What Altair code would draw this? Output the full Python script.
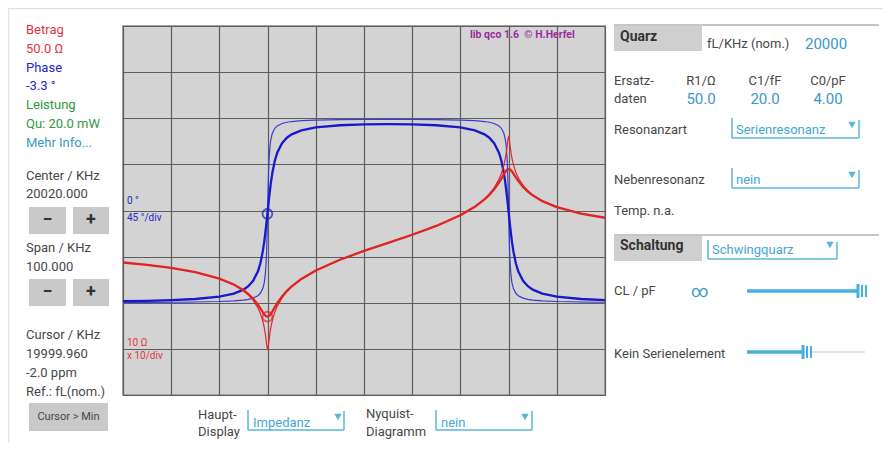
import altair as alt
import pandas as pd

# ---------------- data ----------------
FREQ_KHZ = [19970, 19975, 19980, 19985, 19990, 19993, 19995, 19996, 19997, 19998,
            19998.5, 19999, 19999.3, 19999.5, 19999.7, 19999.8, 19999.9, 20000,
            20000.1, 20000.2, 20000.3, 20000.5, 20000.7, 20001, 20001.5, 20002,
            20003, 20004, 20005, 20007, 20010, 20015, 20020, 20025, 20030, 20035,
            20040, 20043, 20045, 20046, 20047, 20048, 20048.5, 20049, 20049.3,
            20049.5, 20049.7, 20049.8, 20049.9, 20050, 20050.1, 20050.2, 20050.3,
            20050.5, 20050.7, 20051, 20051.5, 20052, 20053, 20054, 20055, 20057,
            20060, 20065, 20070]

# |Z| in Ohm, thick curve (R1 = 50 Ohm)
MAG_THICK = [746.6, 663.9, 569.5, 460.6, 334.1, 248.2, 186.4, 154.4, 122.1, 90.3,
             75.6, 62.6, 56.5, 53.3, 51.1, 50.4, 50.1, 50.0,
             50.2, 50.8, 51.7, 54.3, 58.0, 65.2, 80.2, 97.9,
             137.6, 181.3, 227.8, 328.9, 501.0, 855.1, 1327.8, 1989.5, 2981, 4629,
             7900, 12034, 17372, 21836, 28759, 40444, 49328, 60723, 68208,
             72840, 76558, 77888, 78778, 79186, 79094, 78513, 77483,
             74310, 70146, 63199, 52376, 43812, 32429, 25631, 21230, 15949,
             11847, 8593, 6951]

# |Z| in Ohm, thin curve (R1 = 10 Ohm)
MAG_THIN = [746.1, 663.2, 568.5, 459.2, 331.7, 244.5, 181.1, 147.7, 113.0, 77.1,
            58.8, 40.2, 29.2, 22.1, 15.5, 12.7, 10.7, 10.0,
            10.8, 12.8, 15.7, 22.5, 30.0, 41.9, 62.4, 83.5,
            127.4, 173.3, 221.3, 324.1, 497.5, 852.7, 1326.4, 1989.5, 2984, 4642,
            7956, 12214, 17883, 22835, 31061, 47377, 63445, 94553, 131878,
            175984, 252660, 308478, 367040, 395826, 368539, 310928, 255692,
            179506, 135598, 98412, 67372, 51324, 35028, 26798, 21856, 16189,
            11933, 8620, 6962]

# phase in degrees, thick curve
PHASE_THICK = [-88.50, -88.08, -87.43, -86.32, -84.04, -81.09, -77.20, -73.89, -68.63, -59.24,
               -51.45, -39.92, -30.54, -23.12, -14.86, -10.48, -5.99, -1.44,
               3.11, 7.60, 11.98, 20.24, 27.66, 37.04, 48.56, 56.36,
               65.74, 70.99, 74.29, 78.15, 81.04, 83.16, 84.01, 84.25, 84.01, 83.16,
               81.04, 78.15, 74.29, 70.99, 65.74, 56.36, 48.56, 37.04, 27.66,
               20.24, 11.98, 7.60, 3.11, -1.44, -5.99, -10.48, -14.86,
               -23.12, -30.54, -39.92, -51.45, -59.24, -68.63, -73.89, -77.20, -81.09,
               -84.04, -86.32, -87.43]

# phase in degrees, thin curve
PHASE_THIN = [-89.70, -89.62, -89.49, -89.26, -88.80, -88.20, -87.39, -86.67, -85.48, -83.12,
              -80.77, -76.18, -70.54, -63.60, -50.34, -38.80, -21.99, -0.29,
              21.41, 38.22, 49.76, 63.02, 69.96, 75.60, 80.19, 82.54,
              84.91, 86.09, 86.80, 87.61, 88.20, 88.63, 88.80, 88.85, 88.80, 88.63,
              88.20, 87.61, 86.80, 86.09, 84.91, 82.54, 80.19, 75.60, 69.96,
              63.02, 49.76, 38.22, 21.41, -0.29, -21.99, -38.80, -50.34,
              -63.60, -70.54, -76.18, -80.77, -83.12, -85.48, -86.67, -87.39, -88.20,
              -88.80, -89.26, -89.49]

CURSOR_KHZ = [19999.96]
CURSOR_MAG = [50.0]
CURSOR_PHASE = [-3.3]

X_DOMAIN = [19970, 20070]
X_TICKS = [19970, 19980, 19990, 20000, 20010, 20020, 20030, 20040, 20050, 20060, 20070]
MAG_DOMAIN = [1, 1e8]
PHASE_DOMAIN = [-180, 180]
PHASE_TICKS = [-180, -135, -90, -45, 0, 45, 90, 135, 180]

# ---------------- layout ----------------
W, H = 482, 369
OX, OY = 123, 26          # page position of the plot origin
FONT = "Roboto"

RED = "#e5343c"
BLUE = "#2626cc"
GREEN = "#2f9a3a"
LB = "#3b98c6"
LB2 = "#45a6d2"
DARK = "#474747"
DARK2 = "#333333"
PURPLE = "#9a2c9c"
BTN = "#c9c9c9"
HDR = "#cfcfcf"
DD = "#5ab6dd"
SL = "#47b0dc"

texts_left = [
    ("Betrag", 26, 30, RED, 13), ("50.0 Ω", 26, 49, RED, 13),
    ("Phase", 26, 68, BLUE, 13), ("-3.3 °", 26, 86, BLUE, 13),
    ("Leistung", 26, 105, GREEN, 13), ("Qu: 20.0 mW", 26, 124, GREEN, 13),
    ("Mehr Info...", 26, 143, LB, 13),
    ("Center / KHz", 26, 176, DARK, 13), ("20020.000", 26, 194, DARK, 13),
    ("Span / KHz", 26, 248, DARK, 13), ("100.000", 26, 267, DARK, 13),
    ("Cursor / KHz", 26, 335, DARK, 13), ("19999.960", 26, 354, DARK, 13),
    ("-2.0 ppm", 26, 373, DARK, 13), ("Ref.: fL(nom.)", 26, 392, DARK, 13),
    ("Haupt-", 198, 415, DARK, 13), ("Display", 198, 432, DARK, 13),
    ("Impedanz", 253, 423, LB2, 13),
    ("Nyquist-", 366, 414, DARK, 13), ("Diagramm", 366, 432, DARK, 13),
    ("nein", 441, 423, LB2, 13),
    ("fL/KHz (nom.)", 707, 44, DARK, 13), ("20000", 805, 44, LB, 15),
    ("Ersatz-", 614, 81, DARK, 13), ("daten", 614, 99, DARK, 13),
    ("Resonanzart", 614, 130, DARK, 13), ("Serienresonanz", 736, 130, LB2, 13),
    ("Nebenresonanz", 614, 180, DARK, 13), ("nein", 736, 180, LB2, 13),
    ("Temp. n.a.", 614, 211, DARK, 13),
    ("Schwingquarz", 712, 250, LB2, 13),
    ("CL / pF", 614, 291, DARK, 13), ("∞", 691, 292, LB, 17),
    ("Kein Serienelement", 614, 354, DARK, 13),
    ("0 °", 127, 201, BLUE, 10), ("45 °/div", 127, 218, BLUE, 10),
    ("10 Ω", 127, 343, RED, 10), ("x 10/div", 127, 356, RED, 10),
]
texts_center = [
    ("R1/Ω", 701, 81, DARK, 13), ("C1/fF", 765, 81, DARK, 13), ("C0/pF", 828, 81, DARK, 13),
    ("50.0", 701, 99, LB, 15), ("20.0", 765, 99, LB, 15), ("4.00", 828, 99, LB, 15),
    ("Cursor > Min", 68.5, 417, DARK, 11),
]
texts_center_bold = [
    ("−", 47.5, 220, DARK2, 18), ("+", 91, 220, DARK2, 18),
    ("−", 47.5, 292, DARK2, 18), ("+", 91, 292, DARK2, 18),
]
texts_bold = [
    ("Quarz", 620, 37, DARK2, 14), ("Schaltung", 620, 246, DARK2, 14),
    ("lib qco 1.6\u00a0\u00a0© H.Herfel", 470, 35, PURPLE, 10.5),
]
rects = [
    (29, 207, 66, 234, BTN), (73, 207, 109, 234, BTN),
    (29, 279, 66, 306, BTN), (73, 279, 109, 306, BTN),
    (29, 403, 108, 431, BTN),
    (614, 25, 702, 51, HDR), (614, 235, 702, 261, HDR),
]
rules = [
    (8, 8.5, 885, 8.5, "#e3e3e3", 1.5), (8.5, 8, 8.5, 443, "#e3e3e3", 1.5),
    (614, 25, 879, 25, "#c6c6c6", 2), (614, 235, 879, 235, "#c6c6c6", 2),
    (248, 410, 248, 430, DD, 1.5), (248, 430, 344, 430, DD, 1.5), (344, 411, 344, 430, DD, 1.5),
    (436, 410, 436, 430, DD, 1.5), (436, 430, 532, 430, DD, 1.5), (532, 411, 532, 430, DD, 1.5),
    (732, 118, 732, 138, DD, 1.5), (732, 138, 859, 138, DD, 1.5), (859, 120, 859, 138, DD, 1.5),
    (732, 168, 732, 188, DD, 1.5), (732, 188, 859, 188, DD, 1.5), (859, 170, 859, 188, DD, 1.5),
    (708, 240, 708, 259, DD, 1.5), (708, 259, 837, 259, DD, 1.5), (837, 242, 837, 259, DD, 1.5),
    (747, 291, 857, 291, SL, 3.5),
    (858, 284, 858, 298, SL, 3), (862, 285, 862, 297, SL, 2), (866, 285, 866, 297, SL, 2),
    (812, 352, 865, 352, "#dcdcdc", 1.5),
    (747, 352, 802, 352, SL, 3.5),
    (803, 345, 803, 359, SL, 3), (807, 346, 807, 358, SL, 2), (811, 346, 811, 358, SL, 2),
]
triangles = [(338, 417), (525, 417), (852, 125), (852, 175), (830, 245)]


def tdf(rows):
    return pd.DataFrame([{"t": t, "x": x - OX, "y": y - OY, "c": c, "s": s}
                         for (t, x, y, c, s) in rows])


def text_layer(rows, align, weight):
    return alt.Chart(tdf(rows)).mark_text(
        align=align, baseline="middle", font=FONT, fontWeight=weight
    ).encode(
        x=alt.X("x:Q", scale=None), y=alt.Y("y:Q", scale=None),
        text="t:N", color=alt.Color("c:N", scale=None),
        size=alt.Size("s:Q", scale=None),
    )


rect_df = pd.DataFrame([{"x1": a - OX, "y1": b - OY, "x2": c - OX, "y2": d - OY, "c": col}
                        for (a, b, c, d, col) in rects])
rule_df = pd.DataFrame([{"x1": a - OX, "y1": b - OY, "x2": c - OX, "y2": d - OY, "c": col, "w": w}
                        for (a, b, c, d, col, w) in rules])
tri_df = pd.DataFrame([{"x": a - OX, "y": b - OY} for (a, b) in triangles])

rect_layer = alt.Chart(rect_df).mark_rect().encode(
    x=alt.X("x1:Q", scale=None), x2="x2:Q", y=alt.Y("y1:Q", scale=None), y2="y2:Q",
    color=alt.Color("c:N", scale=None))
rule_layer = alt.Chart(rule_df).mark_rule().encode(
    x=alt.X("x1:Q", scale=None), x2="x2:Q", y=alt.Y("y1:Q", scale=None), y2="y2:Q",
    color=alt.Color("c:N", scale=None), strokeWidth=alt.StrokeWidth("w:Q", scale=None))
tri_layer = alt.Chart(tri_df).mark_point(shape="triangle-down", filled=True, size=55,
                                         color=DD, opacity=1).encode(
    x=alt.X("x:Q", scale=None), y=alt.Y("y:Q", scale=None))

# ---------------- plot ----------------
curves = pd.DataFrame({"f": FREQ_KHZ, "m_thick": MAG_THICK, "m_thin": MAG_THIN,
                       "p_thick": PHASE_THICK, "p_thin": PHASE_THIN})
cursor = pd.DataFrame({"f": CURSOR_KHZ, "m": CURSOR_MAG, "p": CURSOR_PHASE})

xaxis = alt.Axis(values=X_TICKS, grid=True, gridColor="#5e5e5e", gridWidth=1.2,
                 labels=False, ticks=False, domain=False, title=None)
xscale = alt.Scale(domain=X_DOMAIN, nice=False, zero=False)
mscale = alt.Scale(type="log", domain=MAG_DOMAIN, nice=False)
pscale = alt.Scale(domain=PHASE_DOMAIN, nice=False, zero=False)
yaxis = alt.Axis(values=PHASE_TICKS, grid=True, gridColor="#5e5e5e", gridWidth=1.2,
                 labels=False, ticks=False, domain=False, title=None)

X = alt.X("f:Q", scale=xscale, axis=xaxis)

base = alt.Chart(curves)
grid_layer = base.mark_line(opacity=0).encode(
    x=X, y=alt.Y("p_thick:Q", scale=pscale, axis=yaxis))
blue_thin = base.mark_line(color="#3a3ad8", strokeWidth=1.2, clip=True).encode(
    x=X, y=alt.Y("p_thin:Q", scale=pscale, axis=None))
blue_thick = base.mark_line(color="#1818cc", strokeWidth=2.3, clip=True).encode(
    x=X, y=alt.Y("p_thick:Q", scale=pscale, axis=None))
red_thin = base.mark_line(color="#e2262a", strokeWidth=1.2, clip=True).encode(
    x=X, y=alt.Y("m_thin:Q", scale=mscale, axis=None))
red_thick = base.mark_line(color="#e02424", strokeWidth=2.3, clip=True).encode(
    x=X, y=alt.Y("m_thick:Q", scale=mscale, axis=None))
cur_blue = alt.Chart(cursor).mark_point(shape="circle", filled=False, size=95,
                                        strokeWidth=1.8, color="#1818cc").encode(
    x=X, y=alt.Y("p:Q", scale=pscale, axis=None))
cur_red = alt.Chart(cursor).mark_point(shape="circle", filled=False, size=95,
                                       strokeWidth=1.8, color="#e02424").encode(
    x=X, y=alt.Y("m:Q", scale=mscale, axis=None))

chart = alt.layer(
    grid_layer, blue_thin, blue_thick, red_thin, red_thick, cur_blue, cur_red,
    rect_layer, rule_layer, tri_layer,
    text_layer(texts_left, "left", "normal"),
    text_layer(texts_center, "center", "normal"),
    text_layer(texts_center_bold, "center", "bold"),
    text_layer(texts_bold, "left", "bold"),
).resolve_scale(y="independent").properties(
    width=W, height=H,
    padding={"left": OX - 8, "top": OY - 8, "right": 875 - (OX - 8) - W, "bottom": 435 - (OY - 8) - H},
    autosize=alt.AutoSizeParams(type="none"),
    background="white",
).configure_view(stroke="#a3a3a3", strokeWidth=2, fill="#d3d3d3")

chart.save("out.html", embed_options={"renderer": "svg", "actions": False})
